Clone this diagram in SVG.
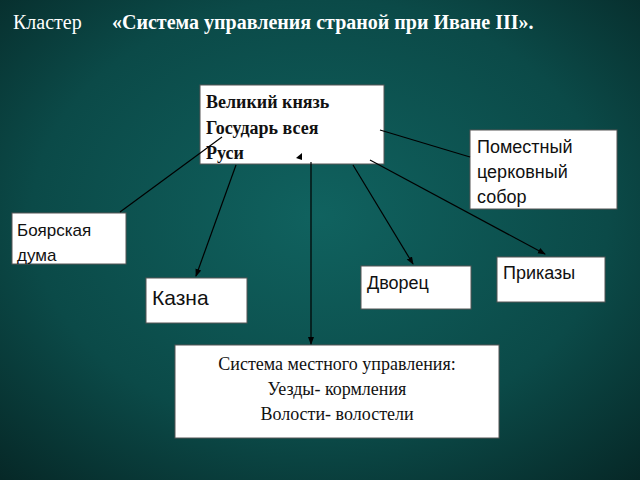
<svg xmlns="http://www.w3.org/2000/svg" width="640" height="480" viewBox="0 0 640 480">
<defs>
<radialGradient id="bg" cx="50%" cy="45%" r="75%">
<stop offset="0" stop-color="#10625f"/><stop offset="0.6" stop-color="#0b4a48"/><stop offset="1" stop-color="#062726"/>
</radialGradient>
<marker id="ar" markerWidth="8" markerHeight="8" refX="7" refY="4" orient="auto" markerUnits="userSpaceOnUse"><path d="M0,1 L8,4 L0,7 Z" fill="#000"/></marker>
</defs>
<style>
.b{fill:#fff;stroke:#555;stroke-width:1}
.s{font-family:"Liberation Sans",Arial,sans-serif;fill:#111}
.r{font-family:"Liberation Serif","Times New Roman",serif;fill:#111}
.c line{stroke:#000;stroke-width:1.2}
</style>
<rect width="640" height="480" fill="url(#bg)"/>
<text x="13" y="29" font-family="Liberation Serif,serif" font-size="20" fill="#fff">Кластер <tspan x="112" font-weight="bold">«Система управления страной при Иване III».</tspan></text>
<g id="n-main"><rect class="b" x="200" y="85" width="184" height="79"/>
<text class="r" font-weight="bold" font-size="18" fill="#2a2a10"><tspan x="206" y="108">Великий князь</tspan><tspan x="206" y="134">Государь всея</tspan><tspan x="206" y="159">Руси</tspan></text></g>
<g id="n-sobor"><rect class="b" x="470" y="130" width="147" height="79"/>
<text class="s" font-size="18"><tspan x="477" y="153">Поместный</tspan><tspan x="477" y="178">церковный</tspan><tspan x="477" y="203">собор</tspan></text></g>
<g id="n-duma"><rect class="b" x="12" y="213" width="114" height="51"/>
<text class="s" font-size="17"><tspan x="17" y="236">Боярская</tspan><tspan x="17" y="261">дума</tspan></text></g>
<g id="n-kazna"><rect class="b" x="146" y="278" width="101" height="45"/>
<text class="s" font-size="21" x="152" y="305">Казна</text></g>
<g id="n-dvorets"><rect class="b" x="361" y="266" width="110" height="43"/>
<text class="s" font-size="18" x="367" y="289">Дворец</text></g>
<g id="n-prikazy"><rect class="b" x="497" y="257" width="108" height="45"/>
<text class="s" font-size="18" x="503" y="279">Приказы</text></g>
<g id="n-local"><rect class="b" x="175" y="345" width="324" height="93"/>
<text class="r" font-size="18" text-anchor="middle"><tspan x="337" y="370">Система местного управления:</tspan><tspan x="337" y="395">Уезды- кормления</tspan><tspan x="337" y="420">Волости- волостели</tspan></text></g>
<g class="c" id="connectors">
<line x1="222" y1="137" x2="120" y2="212"/>
<line x1="236" y1="165" x2="196" y2="276" marker-end="url(#ar)"/>
<line x1="311" y1="162" x2="311" y2="344" marker-end="url(#ar)"/>
<path d="M296,158 L302,153 L302,160 Z" fill="#000"/>
<line x1="353" y1="165" x2="413" y2="264" marker-end="url(#ar)"/>
<line x1="370" y1="160" x2="545" y2="254" marker-end="url(#ar)"/>
<line x1="380" y1="130" x2="470" y2="157"/>
</g>
</svg>
